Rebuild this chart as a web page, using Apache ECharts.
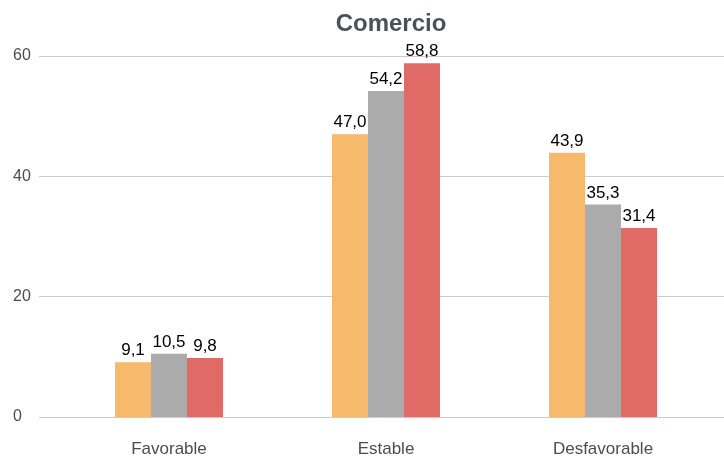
<!DOCTYPE html>
<html>
<head>
<meta charset="utf-8">
<script src="https://cdn.jsdelivr.net/npm/echarts@6/dist/echarts.min.js"></script>
<style>
  html, body { margin: 0; padding: 0; background: #fff; }
  #chart { width: 724px; height: 459px; }
</style>
</head>
<body>
<div id="chart"></div>
<script>
// chart data
var categories = ['Favorable', 'Estable', 'Desfavorable'];
var serie1 = [9.1, 47.0, 43.9];
var serie2 = [10.5, 54.2, 35.3];
var serie3 = [9.8, 58.8, 31.4];
var colores = ['#F7B96B', '#ABABAB', '#E06B66'];

var chartDom = document.getElementById('chart');
var myChart = echarts.init(chartDom);

function barSerie(values, color) {
    return {
        type: 'bar',
        xAxisIndex: 1,
        yAxisIndex: 1,
        data: values,
        barWidth: 36,
        barGap: '0%',
        itemStyle: { color: color },
        label: {
            show: true,
            position: 'top',
            distance: 3,
            color: '#000',
            fontSize: 17,
            fontFamily: 'Liberation Sans, Arial, sans-serif',
            formatter: function (p) {
                return p.value.toFixed(1).replace('.', ',');
            }
        }
    };
}

var option = {
    animation: false,
    title: {
        text: 'Comercio',
        left: 386,
        textAlign: 'center',
        top: 7,
        textStyle: {
            fontSize: 24,
            fontWeight: 'bold',
            color: '#4A5157',
            fontFamily: 'Liberation Sans, Arial, sans-serif'
        }
    },
    grid: [
        // background grid: gridlines + y labels
        { left: 39, right: 0, top: 56, bottom: 42 },
        // bars
        { left: 60.5, right: 12.5, top: 56, bottom: 42 }
    ],
    xAxis: [
        { gridIndex: 0, type: 'value', show: false },
        {
            gridIndex: 1,
            type: 'category',
            data: categories,
            axisLine: { show: false },
            axisTick: { show: false },
            axisLabel: {
                margin: 24,
                fontSize: 17,
                color: '#4D4D4D',
                fontFamily: 'Liberation Sans, Arial, sans-serif'
            }
        }
    ],
    yAxis: [
        {
            gridIndex: 0,
            type: 'value',
            min: 0,
            max: 60,
            interval: 20,
            axisLine: { show: false },
            axisTick: { show: false },
            splitLine: { lineStyle: { color: '#CCCCCC', width: 1 } },
            axisLabel: {
                align: 'left',
                margin: 26,
                padding: [4, 0, 0, 0],
                fontSize: 16,
                color: '#4D4D4D',
                fontFamily: 'Liberation Sans, Arial, sans-serif'
            }
        },
        {
            gridIndex: 1,
            type: 'value',
            min: 0,
            max: 60,
            interval: 20,
            show: false,
            splitLine: { show: false }
        }
    ],
    series: [
        barSerie(serie1, colores[0]),
        barSerie(serie2, colores[1]),
        barSerie(serie3, colores[2])
    ]
};

myChart.setOption(option);
</script>
</body>
</html>
